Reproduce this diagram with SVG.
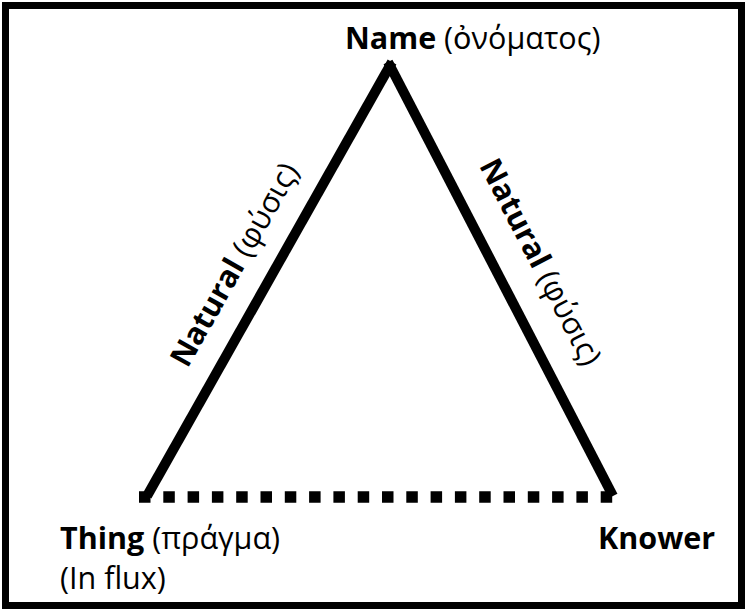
<svg xmlns="http://www.w3.org/2000/svg" width="745" height="609" viewBox="0 0 745 609">
<style>
  text { font-family: "Open Sans", "Noto Sans", "DejaVu Sans", sans-serif; font-size: 30.5px; fill: #000; }
  .b { font-weight: bold; }
  .side { fill: none; stroke: #000; stroke-width: 10; }
  .dots { fill: none; stroke: #000; stroke-width: 11.5; stroke-dasharray: 11.5 12.8; }
</style>
<rect x="5.5" y="5.5" width="736" height="600" fill="#fff" stroke="#000" stroke-width="7"/>
<g id="connectors">
  <line class="side" x1="147" y1="496" x2="392" y2="62"/>
  <line class="side" x1="388" y1="62" x2="613" y2="496"/>
  <line class="dots" x1="139" y1="497" x2="614" y2="497"/>
  <text transform="translate(267,283) rotate(-60.55)" text-anchor="middle" y="-27"><tspan class="b">Natural</tspan> (φύσις)</text>
  <text transform="translate(502,282) rotate(62.6)" text-anchor="middle" y="-33"><tspan class="b">Natural</tspan> (φύσις)</text>
</g>
<g id="name">
  <text x="345" y="49"><tspan class="b">Name</tspan> (ὀνόματος)</text>
</g>
<g id="thing">
  <text x="60" y="549"><tspan class="b">Thing</tspan> (πράγμα)</text>
  <text x="60" y="589">(In flux)</text>
</g>
<g id="knower">
  <text x="598" y="549" class="b">Knower</text>
</g>
</svg>
